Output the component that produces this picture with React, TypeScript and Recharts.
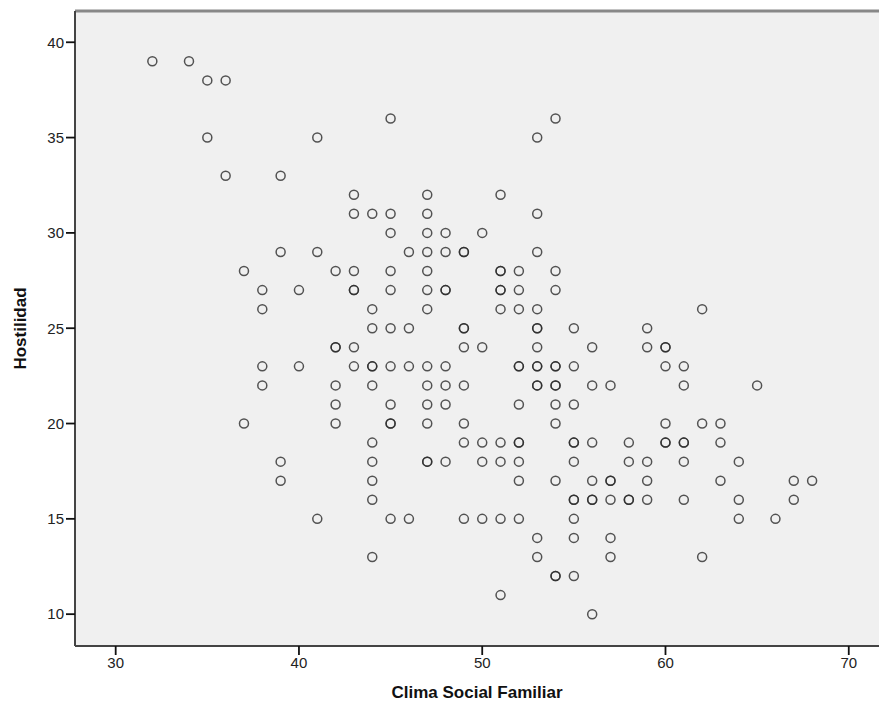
import React from 'react';
import { ScatterChart, Scatter, XAxis, YAxis, CartesianGrid, ReferenceLine } from 'recharts';

// Clima Social Familiar (x) and Hostilidad (y), one entry per case, grouped by Hostilidad row
const climaSocial = [
  32, 34, // 39
  35, 36, // 38
  45, 54, // 36
  35, 41, 53, // 35
  36, 39, // 33
  43, 47, 51, // 32
  43, 44, 45, 47, 53, // 31
  45, 47, 48, 50, // 30
  39, 41, 46, 47, 48, 49, 49, 53, // 29
  37, 42, 43, 45, 47, 51, 51, 52, 54, // 28
  38, 40, 43, 43, 45, 47, 48, 48, 51, 51, 52, 54, // 27
  38, 44, 47, 51, 52, 53, 62, // 26
  44, 45, 46, 49, 49, 53, 53, 55, 59, // 25
  42, 42, 43, 49, 50, 53, 56, 59, 60, 60, // 24
  38, 40, 43, 44, 44, 45, 46, 47, 48, 52, 52, 53, 53, 54, 54, 55, 60, 61, // 23
  38, 42, 44, 47, 48, 49, 53, 53, 54, 54, 56, 57, 61, 65, // 22
  42, 45, 47, 48, 52, 54, 55, // 21
  37, 42, 45, 45, 47, 49, 54, 60, 62, 63, // 20
  44, 49, 50, 51, 52, 52, 55, 55, 56, 58, 60, 60, 61, 61, 63, // 19
  39, 44, 47, 47, 48, 50, 51, 52, 55, 58, 59, 61, 64, // 18
  39, 44, 52, 54, 56, 57, 57, 59, 63, 67, 68, // 17
  44, 55, 55, 56, 56, 57, 58, 58, 59, 61, 64, 67, // 16
  41, 45, 46, 49, 50, 51, 52, 55, 64, 66, // 15
  53, 55, 57, // 14
  44, 53, 57, 62, // 13
  54, 54, 55, // 12
  51, // 11
  56, // 10
];

const hostilidad = [
  39, 39,
  38, 38,
  36, 36,
  35, 35, 35,
  33, 33,
  32, 32, 32,
  31, 31, 31, 31, 31,
  30, 30, 30, 30,
  29, 29, 29, 29, 29, 29, 29, 29,
  28, 28, 28, 28, 28, 28, 28, 28, 28,
  27, 27, 27, 27, 27, 27, 27, 27, 27, 27, 27, 27,
  26, 26, 26, 26, 26, 26, 26,
  25, 25, 25, 25, 25, 25, 25, 25, 25,
  24, 24, 24, 24, 24, 24, 24, 24, 24, 24,
  23, 23, 23, 23, 23, 23, 23, 23, 23, 23, 23, 23, 23, 23, 23, 23, 23, 23,
  22, 22, 22, 22, 22, 22, 22, 22, 22, 22, 22, 22, 22, 22,
  21, 21, 21, 21, 21, 21, 21,
  20, 20, 20, 20, 20, 20, 20, 20, 20, 20,
  19, 19, 19, 19, 19, 19, 19, 19, 19, 19, 19, 19, 19, 19, 19,
  18, 18, 18, 18, 18, 18, 18, 18, 18, 18, 18, 18, 18,
  17, 17, 17, 17, 17, 17, 17, 17, 17, 17, 17,
  16, 16, 16, 16, 16, 16, 16, 16, 16, 16, 16, 16,
  15, 15, 15, 15, 15, 15, 15, 15, 15, 15,
  14, 14, 14,
  13, 13, 13, 13,
  12, 12, 12,
  11,
  10,
];

const xTicks = [30, 40, 50, 60, 70];
const yTicks = [10, 15, 20, 25, 30, 35, 40];

const X_DOMAIN: [number, number] = [27.78, 71.65];
const Y_DOMAIN: [number, number] = [8.33, 41.64];

const data = climaSocial.map((x, i) => ({ x, y: hostilidad[i] }));

const tickFont = { fontFamily: "'Liberation Sans', Arial, sans-serif", fontSize: 15, fill: '#222' };
const titleStyle = {
  fontFamily: "'Liberation Sans', Arial, sans-serif",
  fontWeight: 'bold',
  fontSize: 17,
  fill: '#111',
};

// hollow circle marker, SPSS style
const Ring = (props: any) => {
  const { cx, cy } = props;
  return <circle cx={cx} cy={cy} r={4.5} fill="none" stroke="#2a2a2a" strokeOpacity={0.8} strokeWidth={1.5} />;
};

const App: React.FC = () => {
  return (
    <div style={{ position: 'absolute', left: 0, top: 0, width: 879, height: 715, background: '#fff' }}>
      <ScatterChart width={879} height={715} margin={{ top: 11, right: 0, bottom: 0, left: 0 }}>
        <CartesianGrid horizontal={false} vertical={false} fill="#f0f0f0" />
        <XAxis
          type="number"
          dataKey="x"
          domain={X_DOMAIN}
          ticks={xTicks}
          allowDataOverflow
          height={69}
          tickSize={9}
          tick={tickFont}
          tickLine={{ stroke: '#111', strokeWidth: 1.8 }}
          axisLine={{ stroke: '#444', strokeWidth: 2 }}
          label={{ value: 'Clima Social Familiar', position: 'insideBottom', offset: 17, style: titleStyle }}
        />
        <YAxis
          type="number"
          dataKey="y"
          domain={Y_DOMAIN}
          ticks={yTicks}
          allowDataOverflow
          width={75}
          tickSize={9}
          tick={tickFont}
          tickLine={{ stroke: '#111', strokeWidth: 1.8 }}
          axisLine={{ stroke: '#444', strokeWidth: 2 }}
          label={{
            value: 'Hostilidad',
            angle: -90,
            position: 'insideLeft',
            offset: 20,
            style: { ...titleStyle, textAnchor: 'middle' },
          }}
        />
        <ReferenceLine y={Y_DOMAIN[1]} stroke="#888" strokeWidth={3} />
        <Scatter data={data} shape={Ring} isAnimationActive={false} />
      </ScatterChart>
    </div>
  );
};

export default App;
